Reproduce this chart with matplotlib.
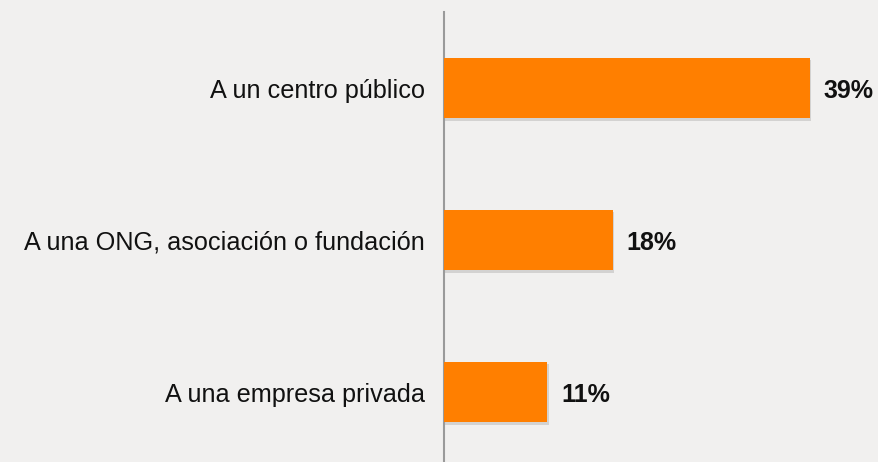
import matplotlib.pyplot as plt
import matplotlib.patheffects as pe

# datos
categorias = ['A un centro público', 'A una ONG, asociación o fundación', 'A una empresa privada']
valores = [39, 18, 11]
etiquetas = ['39%', '18%', '11%']

plt.rcParams['font.family'] = ['Liberation Sans', 'DejaVu Sans']

fig = plt.figure(figsize=(8.79, 4.62), dpi=100)
fig.patch.set_facecolor('#f1f0ef')
ax = fig.add_axes([444/879, 0, 435/879, 450/462])
ax.set_facecolor('none')

pos = range(len(categorias))
bars = ax.barh(pos, valores, height=0.4, color='#ff7f00', zorder=3)
for b in bars:
    b.set_path_effects([pe.SimplePatchShadow(offset=(1, -2), shadow_rgbFace='#000000', alpha=0.12),
                        pe.Normal()])

ax.set_xlim(0, 435/9.38)
ax.set_ylim(2.46, -0.5)

for p, v, t in zip(pos, valores, etiquetas):
    ax.annotate(t, (v, p), xytext=(10, 0), textcoords='offset points', va='center_baseline', ha='left',
                fontsize=18, fontweight='bold', color='#111111')

ax.set_yticks(list(pos))
ax.set_yticklabels(categorias, fontsize=18.2)
ax.tick_params(axis='y', length=0, pad=14, colors='#111111')
ax.set_xticks([])
for s in ['top', 'right', 'bottom']:
    ax.spines[s].set_visible(False)
ax.spines['left'].set_color('#9a9a9a')
ax.spines['left'].set_linewidth(1.5)

fig.savefig('out.png', dpi=100, facecolor=fig.get_facecolor())
